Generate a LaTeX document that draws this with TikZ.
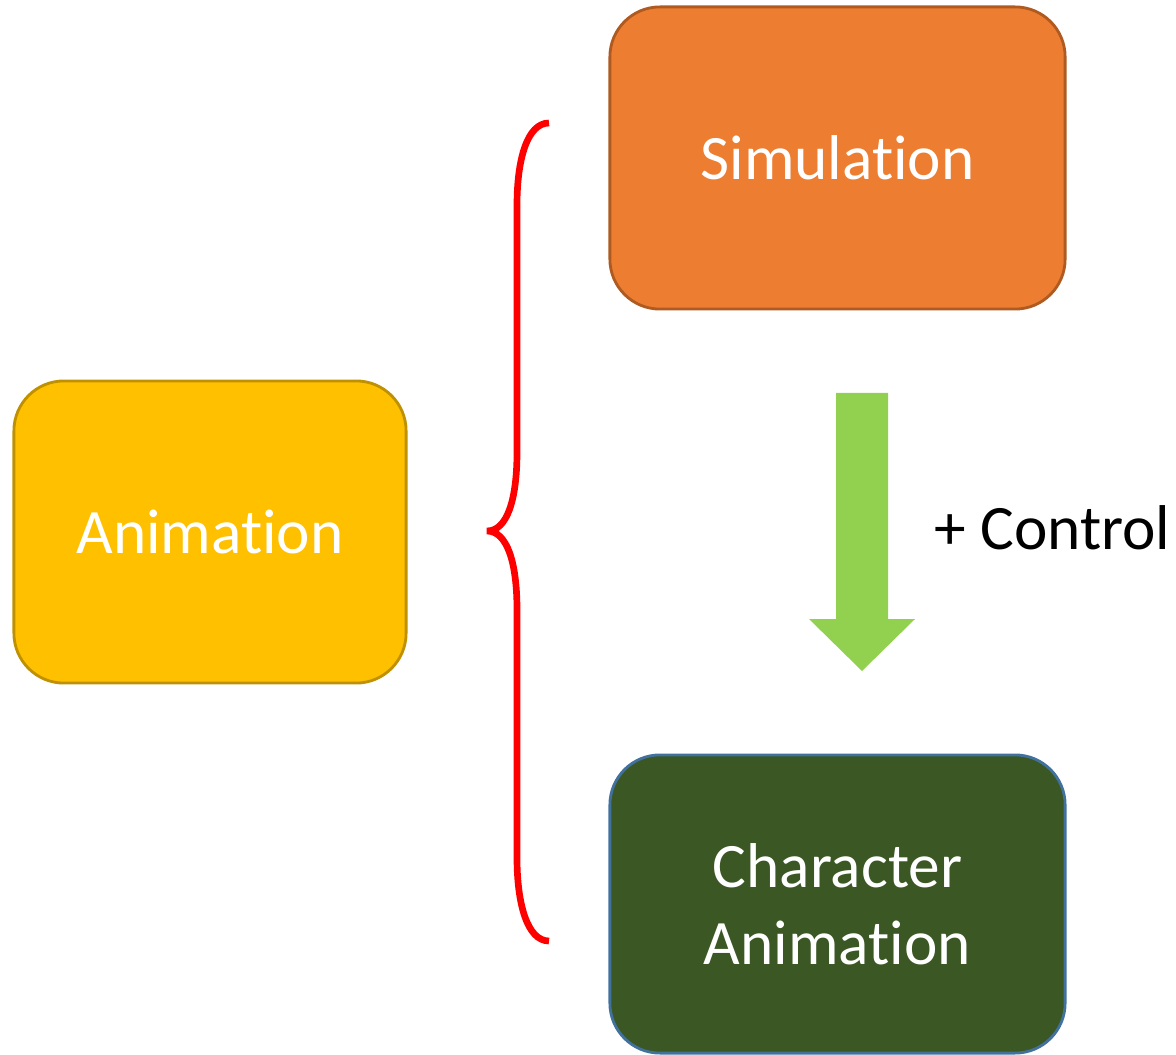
\documentclass[tikz,border=0pt]{standalone}
\usepackage{fontspec}
\setmainfont{Carlito}[Ligatures={NoCommon,NoContextual}]
\definecolor{simorange}{HTML}{ED7D31}
\definecolor{simedge}{HTML}{AE5A21}
\definecolor{animyellow}{HTML}{FFC000}
\definecolor{animedge}{HTML}{BF9000}
\definecolor{chargreen}{HTML}{3A5724}
\definecolor{charedge}{HTML}{41719C}
\definecolor{ctrlgreen}{HTML}{92D050}
\begin{document}
\begin{tikzpicture}[x=0.01cm,y=-0.01cm,
  box/.style={draw,line width=0.8pt,rounded corners=0.5cm,text=white,align=center,
    font=\fontsize{18}{22}\selectfont,minimum height=3.02cm}]
\useasboundingbox (0,0) rectangle (1176,1055);

\node[box,fill=animyellow,draw=animedge,minimum width=3.92cm] (anim) at (210,532) {Animation};
\node[box,fill=simorange,draw=simedge,minimum width=4.55cm] (sim) at (837.5,158) {Simulation};
\node[box,fill=chargreen,draw=charedge,minimum width=4.55cm,minimum height=2.98cm] (char) at (837.5,904) {Character\\Animation};

% brace
\draw[red,line width=1.9pt] (549,123) .. controls (527,123) and (517,160) .. (517,205)
  -- (517,452) .. controls (517,500) and (507,531) .. (487,531)
  .. controls (507,531) and (517,562) .. (517,610)
  -- (517,858) .. controls (517,903) and (527,941) .. (549,941);

% control arrow
\fill[ctrlgreen] (836,393) -- (888,393) -- (888,619) -- (915,619) -- (862,671)
  -- (809,619) -- (836,619) -- cycle;
\node[anchor=west,inner sep=0pt,font=\fontsize{18}{22}\selectfont] (ctrl) at (934,528) {+ Control};
\end{tikzpicture}
\end{document}
